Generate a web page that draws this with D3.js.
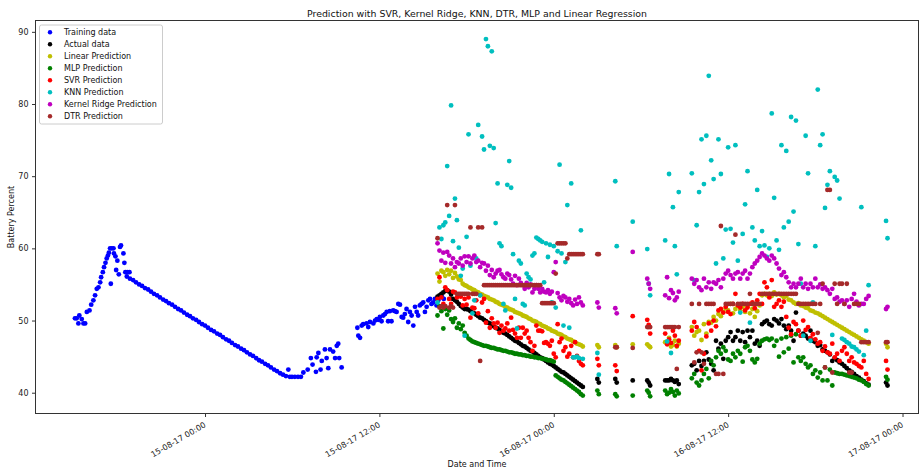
<!DOCTYPE html>
<html>
<head>
<meta charset="utf-8">
<script src="https://cdn.jsdelivr.net/npm/d3@7"></script>
<style>
  html, body { margin: 0; padding: 0; background: #fff; }
  svg { display: block; font-family: "DejaVu Sans", sans-serif; }
</style>
</head>
<body>
<svg id="chart" width="922" height="472"></svg>
<script>
// ---------------------------------------------------------------
// Data: times are minutes after 15-08-17 00:00, values in percent
// ---------------------------------------------------------------
const startTime = new Date(2017, 7, 15, 0, 0);
const xTickMinutes = [0, 720, 1440, 2160, 2880];
const yTicks = [40, 50, 60, 70, 80, 90];

const trainMinutes = [
  -537,-530,-523,-519,-509,-502,-495,
  -488,-477,-470,-461,-454,-447,-440,-433,-429,-422,-417,-411,-406,-401,-397,-392,-389,-385,-378,-376,-370,-367,-362,-356,-351,-347,-337,-333,-329,-323,-321,-312,
  -310,-297,-285,-272,-260,-248,-235,-223,-211,-198,-186,-173,-161,-149,-136,-124,-111,-99,-87,-74,-62,-50,-37,-25,-12,0,12,25,37,50,62,74,87,99,111,124,136,149,161,173,186,198,211,223,235,248,260,272,285,297,310,322,334,
  344,350,359,371,384,396,
  406,424,437,444,458,461,468,477,482,495,502,509,516,529,537,544,550,554,564,
  629,633,640,647,653,667,674,681,695,702,709,715,722,729,736,743,750,756,763,770,777,784,791,798,805,812,818,825,832,839,846,853,860,867,874,880,887,894,901,908,915,922,929,935,942,949,956,963,970,978,986
];
const trainValues = [
  50.3,50.3,49.6,50.7,50.2,49.6,49.6,
  51.2,51.4,52.2,52.8,53.5,54.4,54.6,55.3,56.0,56.7,57.4,58.0,58.6,59.0,59.4,60.0,55.1,60.0,60.0,59.3,58.9,57.0,58.3,56.4,60.2,60.4,59.3,58.0,56.7,56.1,56.7,56.7,
  55.8,55.6,55.3,55.0,54.8,54.5,54.3,54.0,53.7,53.5,53.2,52.9,52.7,52.4,52.2,51.9,51.6,51.4,51.1,50.8,50.6,50.3,50.1,49.8,49.5,49.3,49.0,48.7,48.5,48.2,48.0,47.7,47.4,47.2,46.9,46.6,46.4,46.1,45.9,45.6,45.3,45.1,44.8,44.5,44.3,44.0,43.8,43.5,43.2,43.0,42.7,42.5,42.3,
  43.2,42.2,42.2,42.2,42.2,42.2,
  42.8,43.2,44.8,43.9,42.9,44.9,45.5,43.2,44.4,46.0,44.8,43.4,46.0,45.7,44.8,46.5,46.8,44.8,43.5,
  49.0,47.9,47.6,49.3,49.5,49.6,49.1,49.8,49.6,50.0,50.2,50.1,50.5,49.9,50.7,50.9,51.2,49.9,51.3,49.9,51.4,51.3,51.2,52.3,52.2,50.5,50.4,50.9,51.6,49.8,51.2,50.7,49.3,51.9,51.2,50.7,52.1,52.3,52.5,51.2,51.9,52.8,53.0,52.3,52.5,53.0,52.1,52.8,53.2,53.3,53.0
];

const testMinutes = [
  960,968,976,984,992,1000,1008,1016,1024,1032,1040,1048,1056,1064,1072,1080,1088,1096,1104,1112,1120,1128,1136,1144,1152,1160,1168,1176,1184,1192,1200,1208,1216,1224,1232,1240,1248,1256,1264,1272,1280,1288,1296,1304,1312,1320,1328,1336,1344,1352,1360,1368,1376,1384,1392,1400,1408,1416,1424,1432,1440,1448,1456,1464,1472,1480,1488,1496,1504,1512,1520,1528,1536,1544,1552,1560,
  1620,1626,1694,1700,1766,1826,1832,1838,1900,1908,1916,1924,1932,1940,1948,1956,
  2010,2020,2030,2040,2050,2060,2070,2080,2090,2100,2110,2120,2130,2140,2150,2160,2170,2180,2190,2200,2210,2220,2230,2240,2250,2260,2270,2280,2290,2300,2310,2320,2330,2340,2350,2360,2370,2380,2390,2400,2410,2420,2430,2440,2450,2460,2470,2480,2490,2500,2510,2520,2530,2540,2550,2560,2570,2580,2590,2600,2610,2620,2630,2640,2650,2660,2670,2680,2690,2700,2710,2720,2730,2740,
  2812,2818
];

const actualValues = [
  53.3,53.5,53.7,53.9,54.1,54.2,54.0,53.6,53.0,52.8,52.6,52.3,52.0,51.8,51.6,51.6,
  51.5,51.3,51.1,51.0,50.8,50.6,50.4,50.3,50.1,49.9,49.7,49.6,49.4,49.2,49.0,48.9,48.7,48.5,48.3,48.2,48.0,47.8,47.6,47.4,47.2,47.1,46.9,46.7,46.5,46.4,46.2,46.0,45.8,45.7,45.5,45.3,45.1,44.9,44.8,44.6,44.4,44.2,44.0,43.9,43.7,43.5,43.3,43.1,42.9,42.8,42.6,42.4,42.2,42.0,41.8,41.6,41.4,41.2,41.0,40.8,
  41.9,41.4,41.9,41.4,41.7,41.7,41.4,41.0,41.7,41.7,41.7,41.9,41.7,41.5,41.7,41.2,
  43.8,44.0,43.1,44.4,43.7,44.4,45.6,44.6,44.0,43.1,47.2,46.1,46.8,44.7,47.2,47.7,48.4,47.2,47.7,48.6,47.2,48.4,47.0,48.6,47.7,48.6,46.8,47.2,46.5,49.5,49.8,50.0,49.5,49.3,50.2,50.0,49.6,50.2,49.3,48.8,49.3,48.6,47.2,51.1,48.6,47.9,48.2,47.9,47.5,48.6,47.2,47.0,46.5,46.6,46.0,45.8,45.6,45.3,44.4,44.8,44.5,44.2,44.0,43.7,43.4,43.1,42.9,42.6,42.3,42.1,41.8,41.6,41.3,41.1,
  41.4,41.0
];

const linearPred = [
  56.5,55.4,56.9,56.7,56.2,57.0,56.4,56.9,55.9,56.6,56.1,55.7,55.6,
  55.1,54.9,54.8,54.6,54.5,54.3,54.2,54.0,53.9,53.7,53.6,53.4,53.3,53.2,53.0,52.9,52.8,52.6,52.5,52.3,52.2,52.1,51.9,51.8,51.6,51.5,51.4,51.2,51.1,51.0,50.9,50.7,50.6,50.5,50.3,50.2,50.0,49.9,49.8,49.6,49.5,49.3,49.2,49.1,48.9,48.8,48.6,48.5,48.4,48.2,48.1,48.0,47.8,47.7,47.5,47.4,47.3,47.1,47.0,46.8,46.7,46.6,46.4,
  46.6,46.3,46.6,46.3,46.7,46.7,46.5,46.3,47.0,46.9,47.6,46.4,46.6,47.2,46.4,46.8,
  49.1,47.9,48.4,48.6,47.3,49.5,48.2,49.8,49.7,50.5,50.0,50.9,50.6,51.2,51.7,51.4,52.3,51.0,51.6,52.0,51.4,51.9,51.2,52.0,51.0,51.6,50.5,51.3,52.1,53.5,53.7,53.5,53.7,53.4,53.9,53.6,53.7,53.5,53.2,53.4,52.9,52.8,52.5,52.3,52.4,52.1,52.0,51.8,51.7,51.4,51.3,51.1,51.0,50.8,50.6,50.4,50.2,50.0,49.8,49.6,49.4,49.2,49.0,48.8,48.6,48.4,48.2,48.0,47.8,47.6,47.4,47.2,47.0,46.8,
  46.8,46.3
];

const mlpPred = [
  50.7,52.0,51.3,48.9,51.6,50.8,51.4,50.2,49.8,50.3,49.0,49.6,48.8,49.3,48.3,47.9,47.5,47.3,47.1,47.0,46.9,46.8,46.7,46.6,46.5,46.5,46.4,46.3,46.2,46.2,46.1,46.0,46.0,45.9,45.8,45.8,45.7,45.6,45.6,45.5,45.4,45.4,45.3,45.3,45.2,45.2,45.1,45.1,45.0,45.0,44.9,44.9,44.8,44.8,44.7,44.7,44.6,44.5,44.5,44.4,44.3,42.4,42.2,42.0,41.8,41.7,41.5,41.3,41.1,40.9,40.7,40.5,40.3,40.1,39.8,39.6,
  40.3,39.8,39.8,39.5,39.6,40.3,40.0,39.5,40.3,39.8,40.0,40.5,40.1,39.6,40.3,39.9,
  42.0,42.6,41.4,41.0,41.7,42.6,43.3,42.0,44.4,43.8,44.9,45.8,45.4,46.3,45.8,44.6,44.4,45.4,44.9,45.8,45.4,44.3,46.3,46.5,45.8,44.6,44.2,44.7,46.8,47.2,47.4,47.5,47.3,47.5,46.5,47.2,45.0,47.5,45.6,47.7,46.1,47.9,44.2,48.1,44.9,44.4,44.9,44.0,43.5,43.8,42.6,43.1,42.1,42.8,41.7,43.5,41.7,43.2,41.0,42.8,42.7,42.6,42.6,42.5,42.4,42.3,42.2,42.1,42.0,41.8,41.7,41.5,41.2,41.0,
  42.2,41.8
];

const svrPred = [
  53.0,56.0,53.2,52.3,54.6,54.2,53.0,52.3,54.0,53.9,53.2,53.6,53.3,52.1,53.0,52.2,53.2,50.4,51.8,51.7,52.8,51.0,53.5,52.5,53.0,49.7,51.3,49.0,50.3,49.6,49.0,49.7,48.3,49.3,48.6,48.9,49.6,48.6,50.4,48.7,48.2,47.6,49.0,47.6,49.0,48.2,48.6,47.6,47.0,45.8,46.5,49.3,48.6,48.6,48.5,46.9,47.0,46.8,46.5,47.2,45.4,44.9,49.5,47.0,47.5,45.8,46.3,45.0,45.4,46.5,44.9,47.0,45.1,44.4,44.0,43.8,
  44.7,43.8,43.8,43.0,50.6,50.1,49.4,48.2,48.2,46.7,47.4,46.9,48.6,47.9,46.5,47.2,
  48.6,49.8,49.1,45.8,43.1,45.4,47.8,49.6,48.6,50.0,49.2,51.4,51.6,51.1,51.9,51.2,50.9,52.3,53.7,52.1,51.8,52.3,51.4,51.8,52.3,52.5,51.7,52.8,53.7,52.3,55.3,54.6,53.2,55.6,51.9,52.3,52.8,51.9,52.6,50.5,49.0,48.1,49.8,49.5,48.6,47.9,50.0,48.7,49.1,47.6,48.1,47.4,46.8,47.0,45.8,46.4,45.6,45.4,46.8,44.9,45.4,44.4,45.8,46.3,45.4,44.4,44.9,44.2,44.0,43.7,43.5,44.4,42.6,41.9,
  44.4,43.2
];

const knnPred = [
  52.5,62.9,61.3,63.2,63.6,71.4,64.5,79.8,61.0,66.9,63.9,60.1,56.2,57.2,47.9,61.6,75.8,57.6,51.0,52.8,58.6,77.1,53.5,75.5,73.7,89.0,88.0,74.2,87.3,73.9,63.5,69.0,60.7,60.3,52.3,51.4,68.8,72.1,68.4,59.2,53.0,48.9,58.3,57.9,52.3,52.1,56.5,56.0,55.7,59.0,59.3,61.5,61.3,61.1,60.9,55.3,60.7,58.8,60.5,52.5,60.3,51.8,59.6,71.6,59.3,49.3,58.1,66.0,49.0,69.0,44.9,44.9,45.0,44.8,62.5,44.7,
  45.5,42.5,69.3,60.3,63.7,59.9,55.1,53.5,61.1,47.1,70.3,45.5,65.7,60.3,56.4,67.8,
  70.4,55.6,63.2,67.8,75.1,68.9,75.6,83.9,72.2,69.6,57.9,75.1,70.3,58.6,62.6,74.0,62.7,60.8,74.3,58.3,51.1,62.0,66.1,70.7,49.7,62.9,61.1,68.1,60.3,62.4,60.4,58.8,60.0,78.7,67.0,61.1,59.8,74.3,62.9,73.5,63.7,78.2,65.1,77.7,60.6,55.1,47.9,75.6,70.4,47.2,52.5,60.3,82.0,74.3,75.8,65.6,68.8,70.7,48.0,69.9,69.4,66.9,47.5,47.3,47.0,46.8,46.4,46.3,46.0,45.7,65.7,45.2,48.6,54.9,
  63.8,61.4
];

const krrPred = [
  60.7,59.7,58.3,59.4,58.0,59.5,59.0,57.9,58.6,57.4,58.1,57.9,58.6,57.6,58.9,58.1,58.9,57.9,58.6,59.0,58.1,58.3,57.4,58.0,57.9,56.9,57.6,56.3,57.0,56.0,56.5,56.9,57.0,56.4,56.0,55.8,56.5,56.3,55.7,55.1,56.2,54.9,55.8,55.2,54.9,54.4,55.2,54.6,55.0,53.9,54.4,54.9,54.4,53.9,54.4,54.0,53.9,54.2,53.7,54.0,56.7,58.1,53.8,53.2,52.8,53.4,53.2,52.6,53.0,52.4,52.1,52.9,52.3,53.2,52.5,52.1,
  52.5,51.8,51.7,51.0,59.5,55.8,55.1,54.4,53.5,56.0,53.1,54.2,53.8,52.8,53.2,54.0,
  55.8,55.1,55.6,54.6,54.2,55.8,54.6,55.3,54.4,55.3,55.1,55.6,54.6,55.8,56.5,56.9,56.3,55.8,56.5,56.7,55.8,56.5,56.9,55.8,56.5,57.4,57.9,58.3,58.8,59.3,59.0,58.6,58.3,59.0,58.6,57.9,57.2,56.3,56.7,56.0,55.3,54.6,55.1,54.6,55.1,55.8,54.6,55.1,54.4,55.1,54.6,55.8,54.6,55.0,54.4,54.6,54.2,53.7,54.4,53.0,53.2,52.6,52.8,52.3,52.8,51.9,53.0,53.7,52.6,52.1,52.3,52.3,53.0,53.4,
  51.6,51.9
];

const dtrPred = [
  61.4,51.8,52.0,51.8,52.0,66.0,51.8,52.0,51.8,66.0,53.7,53.7,53.7,53.7,53.7,53.7,53.7,62.9,53.7,53.7,53.7,62.9,44.4,62.9,
  54.9,54.9,54.9,54.9,54.9,54.9,54.9,54.9,54.9,54.9,54.9,54.9,54.9,54.9,54.9,54.9,54.9,54.9,54.9,54.9,54.9,54.9,54.9,54.9,54.9,54.9,54.9,54.9,54.9,54.9,
  52.4,52.4,52.4,52.4,52.4,52.4,52.4,56.5,60.7,60.7,60.7,60.7,60.7,58.6,59.2,59.2,59.2,59.2,59.2,59.2,59.2,59.2,
  59.2,59.2,46.3,46.3,46.2,49.1,49.1,49.1,49.1,49.1,49.1,49.1,49.1,49.1,43.3,49.1,
  52.3,44.2,45.6,52.3,45.6,44.0,52.3,52.3,52.3,52.3,42.6,42.6,63.1,42.6,52.3,52.3,52.3,52.3,61.9,52.3,52.3,52.3,52.3,52.3,53.7,52.3,52.3,52.3,52.3,
  53.7,53.7,53.7,53.7,53.7,53.7,53.7,53.7,53.7,53.7,53.7,53.7,53.7,53.7,53.7,
  52.3,52.3,52.3,52.3,52.3,52.3,52.3,52.3,48.3,52.3,55.1,43.5,68.1,68.1,42.8,55.1,52.3,55.1,55.1,52.3,55.1,42.8,42.8,52.3,52.3,52.3,47.0,47.0,47.0,47.0,
  47.0,47.0
];

const seriesNames = ["Training data", "Actual data", "Linear Prediction", "MLP Prediction",
                     "SVR Prediction", "KNN Prediction", "Kernel Ridge Prediction", "DTR Prediction"];
const seriesColors = ["#0000ff", "#000000", "#bfbf00", "#008000", "#ff0000", "#00bfbf", "#bf00bf", "#a52a2a"];

// ---------------------------------------------------------------
// Layout
// ---------------------------------------------------------------
const W = 922, H = 472;
const plot = { left: 35.5, right: 918.5, top: 20.5, bottom: 413.5 };

const toDate = m => d3.timeMinute.offset(startTime, m);

const x = d3.scaleTime()
  .domain([toDate(-700), toDate(2946)])
  .range([plot.left, plot.right]);
const y = d3.scaleLinear()
  .domain([37.12, 91.57])
  .range([plot.bottom, plot.top]);

const svg = d3.select("#chart");

// ---------------------------------------------------------------
// Points: training set first, then each model on the test times
// ---------------------------------------------------------------
const testSeries = [actualValues, linearPred, mlpPred, svrPred, knnPred, krrPred, dtrPred];
const layers = [trainMinutes.map((m, i) => ({ t: toDate(m), v: trainValues[i] }))]
  .concat(testSeries.map(vals =>
    testMinutes.map((m, i) => ({ t: toDate(m), v: vals[i] }))
      .filter(d => d.v !== undefined)));

const dots = svg.append("g");
layers.forEach((pts, si) => {
  dots.append("g")
    .attr("fill", seriesColors[si])
    .selectAll("circle")
    .data(pts)
    .join("circle")
    .attr("cx", d => x(d.t))
    .attr("cy", d => y(d.v))
    .attr("r", 2.4);
});

// ---------------------------------------------------------------
// Axes and frame
// ---------------------------------------------------------------
const tickFont = 8;
const fmt = d3.timeFormat("%d-%m-%y %H:%M");

const yAxis = svg.append("g")
  .attr("transform", `translate(${plot.left},0)`)
  .call(d3.axisLeft(y).tickValues(yTicks).tickSize(3.5).tickPadding(3.5));
yAxis.select(".domain").remove();
yAxis.selectAll("line").attr("stroke", "#333");
yAxis.selectAll("text")
  .attr("font-family", "DejaVu Sans, sans-serif")
  .attr("font-size", tickFont)
  .attr("fill", "#222");

const xAxis = svg.append("g")
  .attr("transform", `translate(0,${plot.bottom})`)
  .call(d3.axisBottom(x).tickValues(xTickMinutes.map(toDate)).tickFormat(fmt).tickSize(3.5));
xAxis.select(".domain").remove();
xAxis.selectAll("line").attr("stroke", "#333");
xAxis.selectAll("text")
  .attr("font-family", "DejaVu Sans, sans-serif")
  .attr("font-size", tickFont)
  .attr("fill", "#222")
  .attr("text-anchor", "end")
  .attr("dy", null)
  .attr("y", null)
  .attr("transform", "translate(1,13) rotate(-30)");

svg.append("rect")
  .attr("x", plot.left).attr("y", plot.top)
  .attr("width", plot.right - plot.left).attr("height", plot.bottom - plot.top)
  .attr("fill", "none").attr("stroke", "#333").attr("stroke-width", 1);

// Title and axis labels
svg.append("text")
  .attr("x", (plot.left + plot.right) / 2).attr("y", 16.5)
  .attr("text-anchor", "middle")
  .attr("font-size", 9.4).attr("fill", "#111")
  .text("Prediction with SVR, Kernel Ridge, KNN, DTR, MLP and Linear Regression");

svg.append("text")
  .attr("x", (plot.left + plot.right) / 2).attr("y", 467)
  .attr("text-anchor", "middle")
  .attr("font-size", tickFont).attr("fill", "#111")
  .text("Date and Time");

svg.append("text")
  .attr("transform", `translate(14,${(plot.top + plot.bottom) / 2}) rotate(-90)`)
  .attr("text-anchor", "middle")
  .attr("font-size", tickFont).attr("fill", "#111")
  .text("Battery Percent");

// ---------------------------------------------------------------
// Legend
// ---------------------------------------------------------------
const legend = svg.append("g").attr("transform", "translate(39.5,25)");
legend.append("rect")
  .attr("width", 123).attr("height", 99).attr("rx", 2)
  .attr("fill", "#fff").attr("fill-opacity", 0.8)
  .attr("stroke", "#cccccc").attr("stroke-width", 1);
seriesNames.forEach((name, i) => {
  const row = legend.append("g").attr("transform", `translate(0,${7.3 + i * 12})`);
  row.append("circle").attr("cx", 10.5).attr("cy", 0).attr("r", 2.2).attr("fill", seriesColors[i]);
  row.append("text").attr("x", 24.5).attr("y", 0).attr("dy", "0.35em")
    .attr("font-size", tickFont).attr("fill", "#111").text(name);
});
</script>
</body>
</html>
